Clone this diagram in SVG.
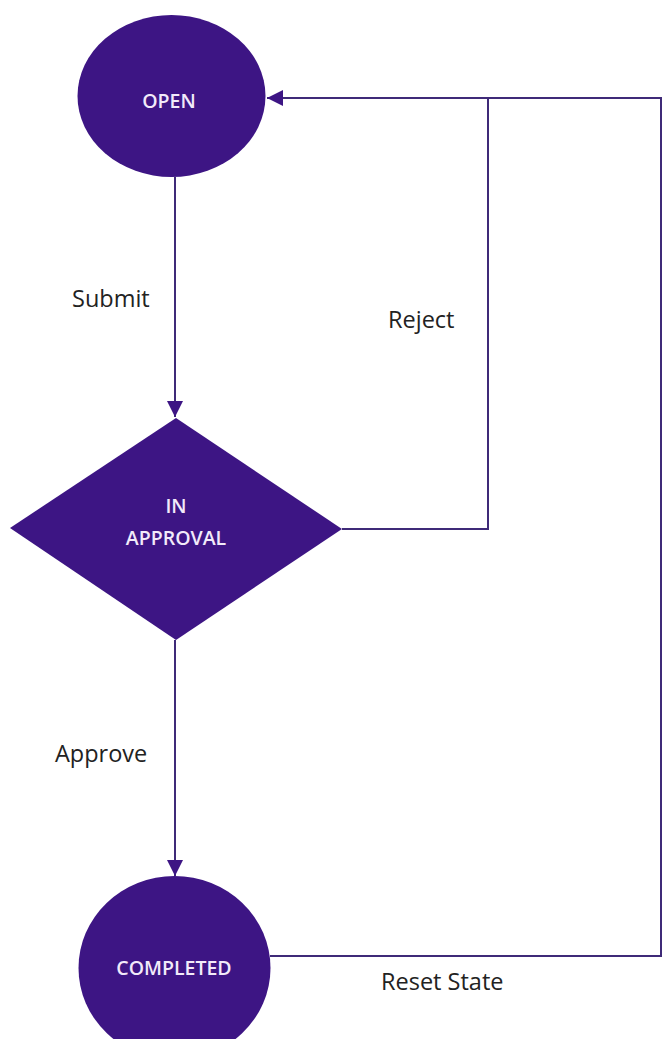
<svg xmlns="http://www.w3.org/2000/svg" width="664" height="1039" viewBox="0 0 664 1039">
<style>
.node{fill:#3d1584;}
.nlabel{fill:#f2eafa;font-family:"Open Sans","Liberation Sans",sans-serif;font-size:19.5px;font-weight:600;text-anchor:middle;}
.elabel{fill:#222;font-family:"Open Sans","Liberation Sans",sans-serif;font-size:23.5px;}
.conn{fill:none;stroke:#3f2a78;stroke-width:2;}
</style>
<defs>
<marker id="arr" viewBox="0 0 16 16" refX="16" refY="8" markerWidth="16" markerHeight="16" markerUnits="userSpaceOnUse" orient="auto">
<path d="M0,0 L16,8 L0,16 Z" fill="#3d1584"/>
</marker>
</defs>
<rect width="664" height="1039" fill="#ffffff"/>
<g id="connectors">
<line class="conn" x1="175" y1="177" x2="175" y2="417" marker-end="url(#arr)"/>
<line class="conn" x1="175" y1="640" x2="175" y2="876" marker-end="url(#arr)"/>
<polyline class="conn" points="342,529 488,529 488,98"/>
<polyline class="conn" points="270,956 661,956 661,98 267,98" marker-end="url(#arr)"/>
<text class="elabel" x="72" y="307">Submit</text>
<text class="elabel" x="388" y="328">Reject</text>
<text class="elabel" x="55" y="762">Approve</text>
<text class="elabel" x="381" y="990">Reset State</text>
</g>
<g id="open">
<ellipse class="node" cx="171.5" cy="96" rx="94" ry="81"/>
<text class="nlabel" x="169" y="108">OPEN</text>
</g>
<g id="in-approval">
<polygon class="node" points="176,418 342,529 176,640 10,528"/>
<text class="nlabel" x="176" y="513">IN</text>
<text class="nlabel" x="176" y="545">APPROVAL</text>
</g>
<g id="completed">
<ellipse class="node" cx="174.5" cy="968" rx="96" ry="92"/>
<text class="nlabel" x="174" y="975">COMPLETED</text>
</g>
</svg>
